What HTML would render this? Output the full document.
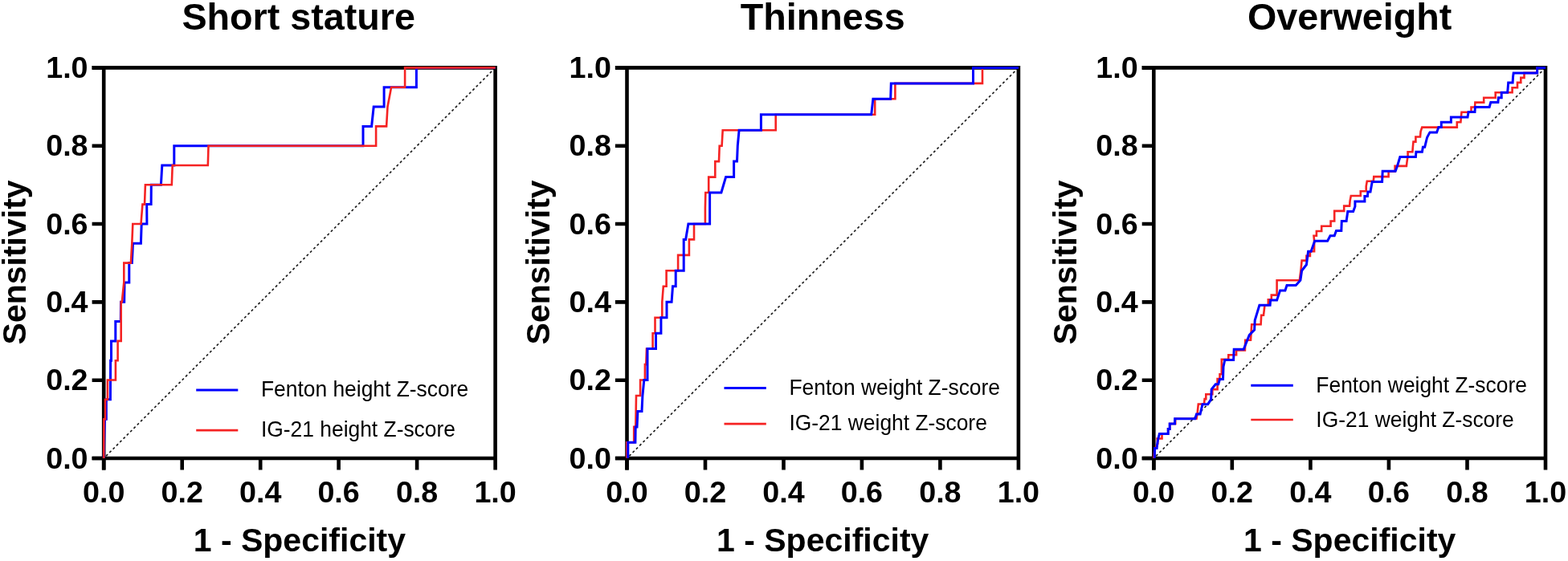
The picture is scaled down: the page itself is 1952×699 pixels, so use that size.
<!DOCTYPE html>
<html><head><meta charset="utf-8"><title>ROC curves</title>
<style>
html,body{margin:0;padding:0;background:#fff;}
body{width:1952px;height:699px;overflow:hidden;}
svg{display:block;}
text{font-family:"Liberation Sans",Arial,sans-serif;fill:#000;}
.b{font-weight:bold;}
</style></head><body>
<svg width="1952" height="699" viewBox="0 0 1952 699">
<rect width="1952" height="699" fill="#fff"/>

<g id="p0">
<text class="b" transform="translate(371.70,37.4) scale(1,1.0)" font-size="46.7" text-anchor="middle">Short stature</text>
<line x1="129.2" y1="571.0" x2="616.6" y2="84.4" stroke="#1c1c1c" stroke-width="1.65" stroke-dasharray="3.0 3.084" stroke-dashoffset="2.11"/>
<path d="M114.6,84.4 H616.6 V571.0" fill="none" stroke="#000" stroke-width="4.6" stroke-linecap="butt" stroke-linejoin="miter"/>
<path d="M129.2,82.1 V585.6 M114.6,571.0 H616.6" fill="none" stroke="#000" stroke-width="4.6"/>
<path d="M114.6,571.0 H129.2 M129.2,571.0 V585.6 M114.6,473.7 H129.2 M226.7,571.0 V585.6 M114.6,376.4 H129.2 M324.2,571.0 V585.6 M114.6,279.0 H129.2 M421.6,571.0 V585.6 M114.6,181.7 H129.2 M519.1,571.0 V585.6 M114.6,84.4 H129.2 M616.6,571.0 V585.6 " fill="none" stroke="#000" stroke-width="4.6"/>
<polyline points="129.2,570.8 129.8,546.5 130.5,522.2 132.3,522.2 132.3,497.8 137.4,497.8 137.6,449.2 138.5,449.2 138.5,424.9 143.8,424.9 143.8,400.6 150.3,400.6 150.5,376.2 154.7,376.2 155.0,351.9 160.8,351.9 160.8,327.6 164.3,327.6 165.5,303.3 175.4,303.3 176.2,279.0 182.9,279.0 182.7,254.6 188.1,254.6 188.3,230.3 200.4,230.3 201.8,206.0 216.8,206.0 216.8,181.7 452.0,181.7 452.0,157.4 462.6,157.4 465.2,133.0 478.1,133.0 478.1,108.7 518.4,108.7 518.4,84.4 616.6,84.4" fill="none" stroke="#0000ff" stroke-width="3" stroke-linejoin="miter" stroke-linecap="butt"/>
<polyline points="129.2,571.0 129.4,522.2 131.0,522.2 131.0,497.8 133.9,497.8 133.9,473.5 143.9,473.5 143.9,449.2 146.6,449.2 146.6,424.9 150.7,424.9 150.7,376.2 151.8,376.2 154.3,351.9 154.3,327.6 162.9,327.6 164.3,303.3 165.3,279.0 175.5,279.0 177.4,254.6 180.0,254.6 180.9,230.3 213.8,230.3 214.7,206.0 258.8,206.0 259.5,181.7 468.1,181.7 468.1,157.4 481.1,157.4 482.5,133.0 487.1,108.7 504.1,108.7 504.1,84.4 616.6,84.4" fill="none" stroke="#f52323" stroke-width="2.6" stroke-linejoin="miter" stroke-linecap="butt"/>
<text class="b" x="109.6" y="583.6" font-size="37.7" text-anchor="end">0.0</text>
<text class="b" x="129.2" y="626.2" font-size="37.7" text-anchor="middle">0.0</text>
<text class="b" x="109.6" y="486.3" font-size="37.7" text-anchor="end">0.2</text>
<text class="b" x="226.7" y="626.2" font-size="37.7" text-anchor="middle">0.2</text>
<text class="b" x="109.6" y="389.0" font-size="37.7" text-anchor="end">0.4</text>
<text class="b" x="324.2" y="626.2" font-size="37.7" text-anchor="middle">0.4</text>
<text class="b" x="109.6" y="291.6" font-size="37.7" text-anchor="end">0.6</text>
<text class="b" x="421.6" y="626.2" font-size="37.7" text-anchor="middle">0.6</text>
<text class="b" x="109.6" y="194.3" font-size="37.7" text-anchor="end">0.8</text>
<text class="b" x="519.1" y="626.2" font-size="37.7" text-anchor="middle">0.8</text>
<text class="b" x="109.6" y="97.0" font-size="37.7" text-anchor="end">1.0</text>
<text class="b" x="616.6" y="626.2" font-size="37.7" text-anchor="middle">1.0</text>
<text class="b" x="372.9" y="686.6" font-size="41" text-anchor="middle">1 - Specificity</text>
<text class="b" transform="translate(32.4,326.9) rotate(-90)" x="0" y="0" font-size="41" text-anchor="middle">Sensitivity</text>
<line x1="244.2" y1="486.1" x2="296.3" y2="486.1" stroke="#0000ff" stroke-width="3"/>
<text transform="translate(324.95,494.40) scale(1,1.04)" font-size="26.4">Fenton height Z-score</text>
<line x1="244.2" y1="536.1" x2="296.3" y2="536.1" stroke="#f52323" stroke-width="2.6"/>
<text transform="translate(324.95,543.50) scale(1,1.04)" font-size="26.4">IG-21 height Z-score</text>
</g>
<g id="p1">
<text class="b" transform="translate(1024.20,37.4) scale(1,1.0)" font-size="46.7" text-anchor="middle">Thinness</text>
<line x1="780.5" y1="571.0" x2="1267.9" y2="84.4" stroke="#1c1c1c" stroke-width="1.65" stroke-dasharray="3.0 3.084" stroke-dashoffset="2.11"/>
<path d="M765.9,84.4 H1267.9 V571.0" fill="none" stroke="#000" stroke-width="4.6" stroke-linecap="butt" stroke-linejoin="miter"/>
<path d="M780.5,82.1 V585.6 M765.9,571.0 H1267.9" fill="none" stroke="#000" stroke-width="4.6"/>
<path d="M765.9,571.0 H780.5 M780.5,571.0 V585.6 M765.9,473.7 H780.5 M878.0,571.0 V585.6 M765.9,376.4 H780.5 M975.5,571.0 V585.6 M765.9,279.0 H780.5 M1072.9,571.0 V585.6 M765.9,181.7 H780.5 M1170.4,571.0 V585.6 M765.9,84.4 H780.5 M1267.9,571.0 V585.6 " fill="none" stroke="#000" stroke-width="4.6"/>
<polyline points="780.5,570.8 780.3,551.3 789.2,551.3 789.2,531.9 791.3,531.9 791.7,512.4 792.0,493.0 797.1,493.0 797.1,473.5 802.9,473.5 802.9,454.1 804.3,454.1 805.0,434.6 812.6,434.6 812.6,415.2 815.5,415.2 815.5,395.7 824.3,395.7 824.3,376.2 825.8,356.8 829.6,356.8 829.6,337.3 844.1,337.3 844.1,317.9 857.9,317.9 857.9,298.4 864.0,298.4 864.0,279.0 877.9,279.0 877.9,259.5 878.3,240.0 882.2,240.0 882.2,220.6 890.3,220.6 890.3,201.1 895.0,201.1 895.7,181.7 898.6,181.7 899.7,162.2 965.7,162.2 965.7,142.8 1089.2,142.8 1089.2,123.3 1114.4,123.3 1114.4,103.9 1223.0,103.9 1223.0,84.4 1267.9,84.4" fill="none" stroke="#f52323" stroke-width="2.6" stroke-linejoin="miter" stroke-linecap="butt"/>
<polyline points="781.8,570.8 781.8,551.3 790.9,551.3 791.2,531.9 793.0,531.9 793.9,512.4 799.0,512.4 799.9,493.0 801.8,473.5 806.0,473.5 806.0,434.6 816.5,434.6 816.5,415.2 822.9,415.2 822.9,395.7 830.0,395.7 830.0,376.2 836.1,376.2 837.5,356.8 841.2,356.8 841.2,337.3 851.2,337.3 851.2,298.4 853.6,298.4 856.9,279.0 883.6,279.0 883.6,240.0 897.9,240.0 903.6,220.6 913.6,220.6 913.6,201.1 917.5,201.1 918.3,181.7 920.1,162.2 947.4,162.2 947.4,142.8 1084.7,142.8 1086.9,123.3 1108.7,123.3 1109.3,103.9 1211.5,103.9 1211.5,84.4 1267.9,84.4" fill="none" stroke="#0000ff" stroke-width="3" stroke-linejoin="miter" stroke-linecap="butt"/>
<text class="b" x="760.9" y="583.6" font-size="37.7" text-anchor="end">0.0</text>
<text class="b" x="780.5" y="626.2" font-size="37.7" text-anchor="middle">0.0</text>
<text class="b" x="760.9" y="486.3" font-size="37.7" text-anchor="end">0.2</text>
<text class="b" x="878.0" y="626.2" font-size="37.7" text-anchor="middle">0.2</text>
<text class="b" x="760.9" y="389.0" font-size="37.7" text-anchor="end">0.4</text>
<text class="b" x="975.5" y="626.2" font-size="37.7" text-anchor="middle">0.4</text>
<text class="b" x="760.9" y="291.6" font-size="37.7" text-anchor="end">0.6</text>
<text class="b" x="1072.9" y="626.2" font-size="37.7" text-anchor="middle">0.6</text>
<text class="b" x="760.9" y="194.3" font-size="37.7" text-anchor="end">0.8</text>
<text class="b" x="1170.4" y="626.2" font-size="37.7" text-anchor="middle">0.8</text>
<text class="b" x="760.9" y="97.0" font-size="37.7" text-anchor="end">1.0</text>
<text class="b" x="1267.9" y="626.2" font-size="37.7" text-anchor="middle">1.0</text>
<text class="b" x="1024.2" y="687.0" font-size="41" text-anchor="middle">1 - Specificity</text>
<text class="b" transform="translate(683.7,326.9) rotate(-90)" x="0" y="0" font-size="41" text-anchor="middle">Sensitivity</text>
<line x1="901.5" y1="483.5" x2="953.8" y2="483.5" stroke="#0000ff" stroke-width="3"/>
<text transform="translate(982.45,491.80) scale(1,1.04)" font-size="26.4">Fenton weight Z-score</text>
<line x1="901.5" y1="528.1" x2="953.8" y2="528.1" stroke="#f52323" stroke-width="2.6"/>
<text transform="translate(982.45,536.10) scale(1,1.04)" font-size="26.4">IG-21 weight Z-score</text>
</g>
<g id="p2">
<text class="b" transform="translate(1680.15,37.4) scale(1,1.0)" font-size="46.7" text-anchor="middle">Overweight</text>
<line x1="1436.3" y1="571.0" x2="1924.0" y2="84.4" stroke="#1c1c1c" stroke-width="1.65" stroke-dasharray="3.0 3.084" stroke-dashoffset="2.11"/>
<path d="M1421.7,84.4 H1924.0 V571.0" fill="none" stroke="#000" stroke-width="4.6" stroke-linecap="butt" stroke-linejoin="miter"/>
<path d="M1436.3,82.1 V585.6 M1421.7,571.0 H1924.0" fill="none" stroke="#000" stroke-width="4.6"/>
<path d="M1421.7,571.0 H1436.3 M1436.3,571.0 V585.6 M1421.7,473.7 H1436.3 M1533.8,571.0 V585.6 M1421.7,376.4 H1436.3 M1631.4,571.0 V585.6 M1421.7,279.0 H1436.3 M1728.9,571.0 V585.6 M1421.7,181.7 H1436.3 M1826.5,571.0 V585.6 M1421.7,84.4 H1436.3 M1924.0,571.0 V585.6 " fill="none" stroke="#000" stroke-width="4.6"/>
<polyline points="1436.3,570.8 1437.3,560.0 1441.3,553.0 1440.6,546.5 1446.5,546.5 1446.5,540.5 1454.2,540.5 1454.2,534.4 1456.2,534.4 1456.2,528.0 1463.2,528.0 1463.2,521.7 1489.5,521.7 1490.5,516.0 1491.8,503.5 1499.0,503.5 1499.6,497.1 1501.3,497.1 1501.3,491.2 1509.3,491.2 1509.3,485.1 1515.6,485.1 1515.6,472.0 1518.5,472.0 1518.5,466.2 1520.8,466.2 1520.8,447.9 1529.3,447.9 1529.3,442.2 1539.1,442.2 1539.1,436.4 1549.9,436.4 1550.2,423.7 1557.0,423.7 1558.2,404.2 1569.6,404.2 1570.2,392.8 1573.0,392.8 1574.2,382.5 1574.5,380.2 1578.8,380.2 1578.8,373.3 1582.8,373.3 1582.8,367.6 1589.6,367.6 1589.6,349.2 1617.8,349.2 1619.5,336.1 1620.6,324.6 1626.4,324.6 1626.4,318.9 1630.9,318.9 1630.9,313.2 1636.1,313.2 1636.1,300.0 1635.5,293.7 1638.9,293.7 1638.9,288.0 1645.2,288.0 1645.2,281.8 1656.6,281.8 1656.6,275.5 1661.2,275.5 1661.2,262.9 1673.2,262.9 1673.2,256.6 1680.1,256.6 1680.6,250.3 1681.8,244.0 1693.8,244.0 1693.8,238.3 1700.7,238.3 1700.7,232.0 1701.8,225.7 1709.8,225.7 1710.3,220.1 1728.6,220.1 1728.6,213.8 1736.6,213.8 1736.6,206.9 1750.9,206.9 1751.5,201.8 1752.6,194.3 1752.6,189.2 1758.4,189.2 1758.9,182.9 1759.5,176.6 1762.4,176.6 1762.4,170.5 1768.0,170.5 1768.6,163.8 1770.3,158.6 1813.8,158.6 1813.8,152.3 1818.4,152.3 1818.9,146.1 1819.5,139.8 1831.5,139.8 1831.5,133.5 1836.1,133.5 1836.4,127.6 1847.2,127.6 1847.2,121.7 1861.7,121.7 1861.7,115.2 1882.6,115.2 1882.6,109.3 1889.0,109.3 1889.0,102.9 1893.3,102.9 1893.3,96.9 1897.5,96.9 1897.5,90.9 1913.7,90.9 1913.7,84.4 1924.0,84.4" fill="none" stroke="#f52323" stroke-width="2.6" stroke-linejoin="miter" stroke-linecap="butt"/>
<polyline points="1437.3,570.8 1437.6,558.6 1440.1,558.6 1440.7,553.2 1441.7,547.2 1443.4,540.5 1454.2,540.5 1454.2,534.4 1456.2,534.4 1456.2,528.0 1462.5,528.0 1462.6,521.7 1487.8,521.7 1489.5,516.0 1494.1,516.0 1497.0,503.7 1503.6,503.7 1507.6,497.7 1508.2,485.1 1513.3,478.8 1516.7,478.8 1518.5,472.5 1522.5,472.5 1523.0,457.0 1524.8,448.5 1535.6,448.5 1536.2,435.3 1548.2,435.3 1555.3,417.4 1561.6,411.1 1562.2,399.1 1567.9,380.2 1581.1,380.2 1581.6,373.9 1589.6,373.9 1593.6,361.9 1599.9,361.9 1602.0,355.5 1613.2,355.5 1618.9,349.2 1620.6,337.2 1626.4,329.8 1628.6,313.2 1632.1,313.2 1636.7,300.2 1652.6,300.2 1656.0,293.8 1661.2,293.8 1663.5,287.5 1669.8,287.5 1670.3,275.5 1676.1,275.5 1677.8,263.5 1684.6,263.5 1686.9,257.2 1686.9,250.9 1698.9,250.9 1698.9,244.6 1702.4,244.6 1702.9,238.9 1706.0,238.9 1708.2,226.4 1720.6,226.4 1721.2,213.2 1737.2,213.2 1739.5,206.9 1741.2,201.2 1742.9,195.5 1762.4,195.5 1762.9,189.2 1770.4,189.2 1771.4,183.2 1773.7,183.2 1776.6,171.2 1780.0,164.9 1788.6,164.9 1790.9,158.6 1794.3,158.6 1794.3,152.3 1806.4,152.3 1806.4,146.1 1827.0,146.1 1828.1,139.6 1836.0,139.6 1836.4,133.5 1854.1,133.5 1855.8,127.6 1864.9,127.6 1865.4,121.7 1869.2,121.7 1869.2,115.2 1876.7,115.2 1877.2,109.3 1877.7,102.9 1883.1,102.9 1883.6,95.4 1884.2,90.9 1913.7,90.9 1913.7,84.4 1924.0,84.4" fill="none" stroke="#0000ff" stroke-width="3" stroke-linejoin="miter" stroke-linecap="butt"/>
<text class="b" x="1416.7" y="583.6" font-size="37.7" text-anchor="end">0.0</text>
<text class="b" x="1436.3" y="626.2" font-size="37.7" text-anchor="middle">0.0</text>
<text class="b" x="1416.7" y="486.3" font-size="37.7" text-anchor="end">0.2</text>
<text class="b" x="1533.8" y="626.2" font-size="37.7" text-anchor="middle">0.2</text>
<text class="b" x="1416.7" y="389.0" font-size="37.7" text-anchor="end">0.4</text>
<text class="b" x="1631.4" y="626.2" font-size="37.7" text-anchor="middle">0.4</text>
<text class="b" x="1416.7" y="291.6" font-size="37.7" text-anchor="end">0.6</text>
<text class="b" x="1728.9" y="626.2" font-size="37.7" text-anchor="middle">0.6</text>
<text class="b" x="1416.7" y="194.3" font-size="37.7" text-anchor="end">0.8</text>
<text class="b" x="1826.5" y="626.2" font-size="37.7" text-anchor="middle">0.8</text>
<text class="b" x="1416.7" y="97.0" font-size="37.7" text-anchor="end">1.0</text>
<text class="b" x="1924.0" y="626.2" font-size="37.7" text-anchor="middle">1.0</text>
<text class="b" x="1680.2" y="687.0" font-size="41" text-anchor="middle">1 - Specificity</text>
<text class="b" transform="translate(1340.0,326.9) rotate(-90)" x="0" y="0" font-size="41" text-anchor="middle">Sensitivity</text>
<line x1="1557.3" y1="480.3" x2="1609.8" y2="480.3" stroke="#0000ff" stroke-width="3"/>
<text transform="translate(1638.35,489.10) scale(1,1.04)" font-size="26.4">Fenton weight Z-score</text>
<line x1="1557.3" y1="523.0" x2="1609.8" y2="523.0" stroke="#f52323" stroke-width="2.6"/>
<text transform="translate(1638.35,531.80) scale(1,1.04)" font-size="26.4">IG-21 weight Z-score</text>
</g>
</svg>
</body></html>
